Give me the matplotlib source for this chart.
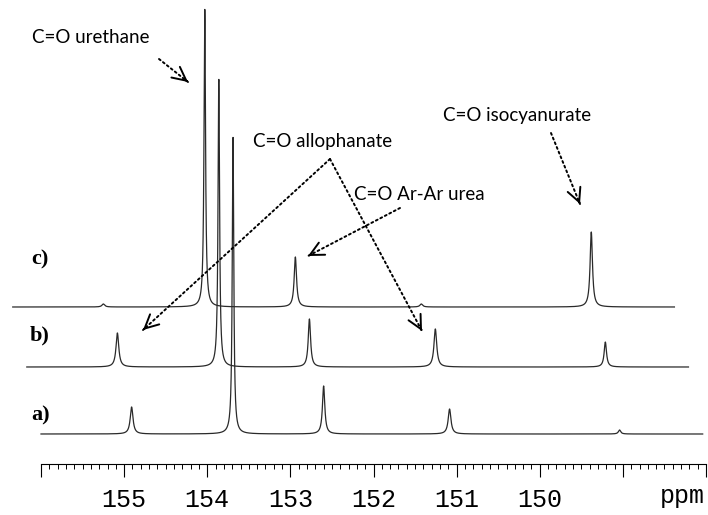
import numpy as np
import matplotlib
matplotlib.use("Agg")
import matplotlib.pyplot as plt

# 13C NMR carbonyl region, three samples stacked with a small offset
shifts = [154.91, 153.69, 152.60, 151.085, 149.04]   # ppm
widths = [0.02, 0.011, 0.017, 0.02, 0.017]           # half width, ppm
int_a = [27, 297, 48, 25, 4]
int_b = [34, 288, 48, 38, 25]
int_c = [3, 298, 50, 3, 75]
samples = ["a)", "b)", "c)"]
intensities = [int_a, int_b, int_c]
ppm_start, ppm_end = 156.0, 148.04

major_ticks = [148, 149, 150, 151, 152, 153, 154, 155, 156]
tick_labels = ["", "", "150", "151", "152", "153", "154", "155", ""]

# stacking layout
base_y = [30, 97, 157]
x_shift = [0.0, 0.171, 0.34]

W, H = 708, 515
fig = plt.figure(figsize=(W / 100, H / 100), dpi=100)
ax = fig.add_axes([41 / W, (H - 464) / H, (706 - 41) / W, 464 / H])
ax.set_xlim(156, 148)
ax.set_ylim(0, 464)


def px(x, y):
    # picture pixel (from top left) -> data coords
    return 156 - (x - 41) * 8 / 665, 464 - y


ppm = np.linspace(ppm_start, ppm_end, 9000)
for k in range(3):
    spec = np.zeros_like(ppm)
    for s, w, h in zip(shifts, widths, intensities[k]):
        spec += h * w ** 2 / ((ppm - s) ** 2 + w ** 2)
    ax.plot(ppm + x_shift[k], spec + base_y[k], color="#2a2a2a", lw=0.9, clip_on=False)

# sample labels
lab_font = dict(family="Liberation Serif", weight="bold", fontsize=16)
for lab, (lx, ly) in zip(samples, [(31, 420), (30, 340), (31, 264)]):
    ax.text(*px(lx, ly), lab, ha="left", va="baseline", **lab_font)

# annotations
txt_font = dict(family=["Lato", "DejaVu Sans"], fontsize=13.5)
texts = [("C=O urethane", 32, 43),
         ("C=O allophanate", 253, 147),
         ("C=O isocyanurate", 443, 121),
         ("C=O Ar-Ar urea", 354, 200)]
for t, tx, ty in texts:
    ax.text(*px(tx, ty), t, ha="left", va="baseline", **txt_font)

arrows = [((159, 59), (188, 82)),
          ((330, 159), (143, 330)),
          ((330, 159), (422, 331)),
          ((400, 208), (308, 256)),
          ((551, 133), (580, 204))]
for (x0, y0), (x1, y1) in arrows:
    ax.annotate("", xy=px(x1, y1), xytext=px(x0, y0),
                arrowprops=dict(arrowstyle="-", linestyle=(0, (1, 1.6)), lw=1.4,
                                color="k", shrinkA=0, shrinkB=0), annotation_clip=False)
    d = np.hypot(x1 - x0, y1 - y0)
    xb, yb = x1 - (x1 - x0) / d * 2, y1 - (y1 - y0) / d * 2
    ax.annotate("", xy=px(x1, y1), xytext=px(xb, yb),
                arrowprops=dict(arrowstyle="->,head_length=0.7,head_width=0.35", lw=1.4,
                                color="k", shrinkA=0, shrinkB=0, mutation_scale=14),
                annotation_clip=False)

# axis
for sp in ["left", "right", "top"]:
    ax.spines[sp].set_visible(False)
ax.spines["bottom"].set_linewidth(0.8)
ax.set_yticks([])
ax.set_xticks(major_ticks)
ax.set_xticklabels(tick_labels, family="Liberation Mono", fontsize=18)
ax.set_xticks(np.arange(148, 156.01, 0.1), minor=True)
ax.tick_params(axis="x", which="major", direction="out", length=9, width=0.8, pad=8)
ax.tick_params(axis="x", which="minor", direction="out", length=3.6, width=0.7)
ax.text(*px(705, 503), "ppm", ha="right", va="baseline", family="Liberation Mono", fontsize=18)

fig.savefig("out.png", dpi=100)
